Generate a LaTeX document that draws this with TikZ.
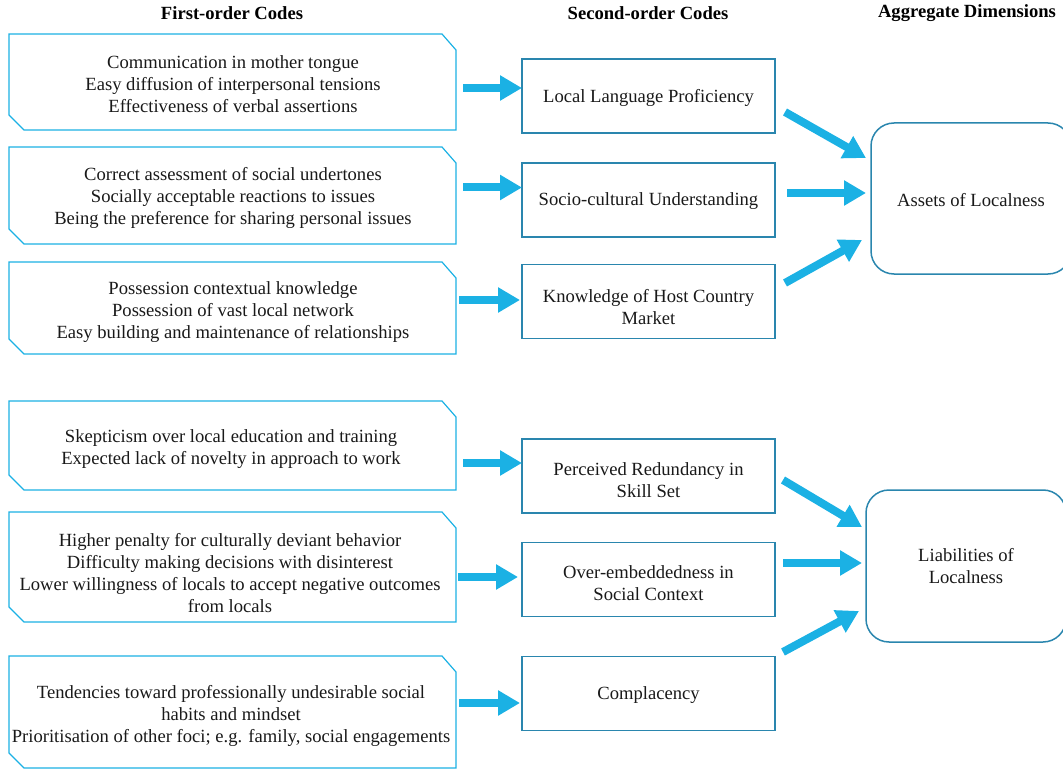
\documentclass[tikz,border=0pt]{standalone}
\usepackage{fontspec}
\setmainfont{Liberation Serif}
\usetikzlibrary{arrows.meta,calc}
\definecolor{lblue}{HTML}{1BB1E4}
\definecolor{tealb}{HTML}{2A86AE}
\begin{document}
\begin{tikzpicture}[x=1pt,y=-1pt,
  txt/.style={font=\fontsize{18.6}{22}\selectfont, align=center, inner sep=0pt, outer sep=0pt, text=black!90},
  head/.style={font=\bfseries\fontsize{18.6}{22}\selectfont, inner sep=0pt, text=black},
  firstbox/.style={rectangle, inner sep=0pt, outer sep=0pt, minimum width=447pt},
  firstline/.style={draw=lblue, line width=1.2pt, line join=miter},
  secondbox/.style={rectangle, inner sep=0pt, outer sep=0pt, draw=tealb, line width=1.5pt, minimum width=253pt, minimum height=74pt},
  aggbox/.style={rectangle, inner sep=0pt, outer sep=0pt, draw=tealb, line width=1.5pt, rounded corners=23pt, minimum width=200pt},
  bigarrow/.style={draw=lblue, line width=8pt, -{Triangle[length=22pt,width=24pt]}}
]
\useasboundingbox (0,0) rectangle (1063,770);
\clip (0,0) rectangle (1063,770);

% headers
\node[head] (h1) at (232,13) {First-order Codes};
\node[head] (h2) at (648,13) {Second-order Codes};
\node[head] (h3) at (967,13) {Aggregate Dimensions};

% first-order code boxes
\node[firstbox, minimum height=96pt] (f1) at (232.5,82) {};
\node[firstbox, minimum height=97pt] (f2) at (232.5,195.5) {};
\node[firstbox, minimum height=92pt] (f3) at (232.5,308) {};
\node[firstbox, minimum height=89pt] (f4) at (232.5,445.5) {};
\node[firstbox, minimum height=110pt] (f5) at (232.5,567) {};
\node[firstbox, minimum height=112pt] (f6) at (232.5,712) {};

\foreach \n in {f1,f2,f3,f4,f5,f6}{
  \draw[firstline] (\n.north west) -- ([xshift=-14pt]\n.north east) -- ([yshift=-16pt]\n.north east)
    -- (\n.south east) -- ([xshift=15pt]\n.south west) -- ([yshift=15pt]\n.south west) -- cycle;
}

% first-order code texts
\node[txt] (f1t) at (233,84) {Communication in mother tongue\\Easy diffusion of interpersonal tensions\\Effectiveness of verbal assertions};
\node[txt] (f2t) at (233,198) {Correct assessment of social undertones\\Socially acceptable reactions to issues\\Being the preference for sharing personal issues};
\node[txt] (f3t) at (233,312.5) {Possession contextual knowledge\\Possession of vast local network\\Easy building and maintenance of relationships};
\node[txt] (f4t) at (231,449.5) {Skepticism over local education and training\\Expected lack of novelty in approach to work};
\node[txt] (f5t) at (230,573) {Higher penalty for culturally deviant behavior\\Difficulty making decisions with disinterest\\Lower willingness of locals to accept negative outcomes\\from locals};
\node[txt] (f6t) at (231,716) {Tendencies toward professionally undesirable social\\habits and mindset\\Prioritisation of other foci; e.g. family, social engagements};

% second-order codes
\node[secondbox] (s1) at (648.5,96) {};
\node[secondbox] (s2) at (648.5,200) {};
\node[secondbox] (s3) at (648.5,301.5) {};
\node[secondbox] (s4) at (648.5,476) {};
\node[secondbox] (s5) at (648.5,579.5) {};
\node[secondbox] (s6) at (648.5,693.5) {};
\node[txt] (s1t) at (648.5,98) {Local Language Proficiency};
\node[txt] (s2t) at (648.5,201) {Socio-cultural Understanding};
\node[txt] (s3t) at (648.5,307) {Knowledge of Host Country\\Market};
\node[txt] (s4t) at (648.5,480.5) {Perceived Redundancy in\\Skill Set};
\node[txt] (s5t) at (648.5,583.5) {Over-embeddedness in\\Social Context};
\node[txt] (s6t) at (648.5,695.5) {Complacency};

% aggregate dimensions
\node[aggbox, minimum height=151pt] (a1) at (971,198.5) {};
\node[aggbox, minimum height=152pt] (a2) at (966,566) {};
\node[txt] (a1t) at (971,200.5) {Assets of Localness};
\node[txt] (a2t) at (966,566) {Liabilities of\\Localness};

% arrows first -> second
\draw[bigarrow] ($(f1.east)+(7,6)$) -- ($(s1.west)+(0,-8)$);
\draw[bigarrow] ($(f2.east)+(7,-8)$) -- ($(s2.west)+(0,-12.5)$);
\draw[bigarrow] ($(f3.east)+(3,-8)$) -- ($(s3.west)+(-2,-1.5)$);
\draw[bigarrow] ($(f4.east)+(7,17.5)$) -- ($(s4.west)+(0,-13)$);
\draw[bigarrow] ($(f5.east)+(2,10)$) -- ($(s5.west)+(-4,-2.5)$);
\draw[bigarrow] ($(f6.east)+(3,-9)$) -- ($(s6.west)+(-2,9.5)$);

% arrows second -> aggregate
\draw[bigarrow] ($(s1.east)+(10,16)$) -- ($(a1.west)+(-5,-40.5)$);
\draw[bigarrow] ($(s2.east)+(12,-7)$) -- ($(a1.west)+(-5,-5.5)$);
\draw[bigarrow] ($(s3.east)+(10,-18.5)$) -- ($(a1.west)+(-9,41.5)$);
\draw[bigarrow] ($(s4.east)+(8,4)$) -- ($(a2.west)+(-4,-39)$);
\draw[bigarrow] ($(s5.east)+(8,-16.5)$) -- ($(a2.west)+(-4,-3)$);
\draw[bigarrow] ($(s6.east)+(8,-41.5)$) -- ($(a2.west)+(-7,45)$);
\end{tikzpicture}
\end{document}
